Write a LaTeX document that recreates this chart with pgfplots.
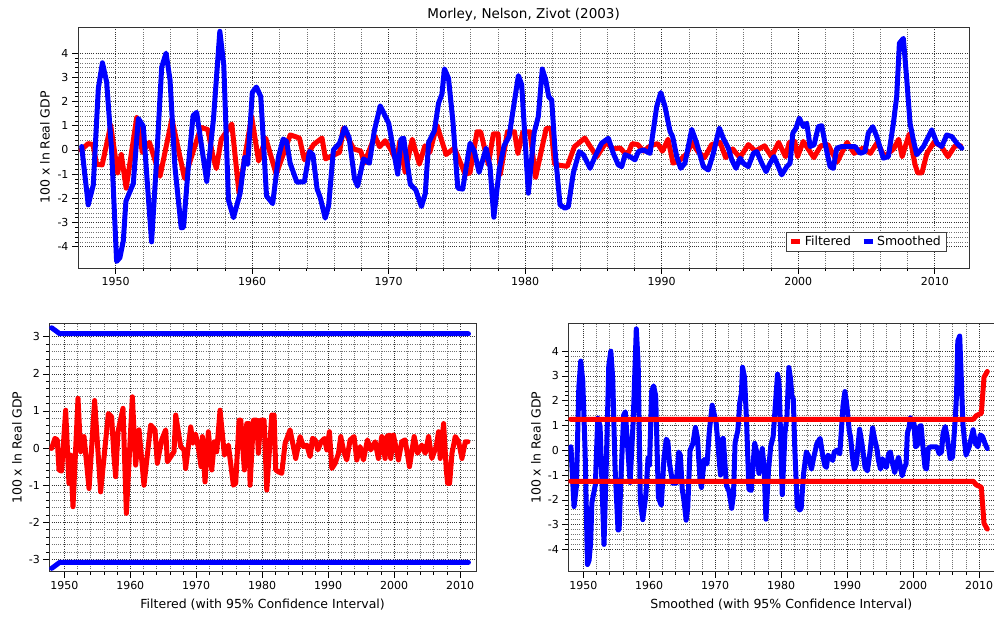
\documentclass[border=0pt]{standalone}
\usepackage{fontspec}
\setmainfont{DejaVu Sans}
\usepackage{pgfplots}
\pgfplotsset{compat=1.18}
\usepackage{pgfplotstable}

% smoothed cycle, top-panel dates
\pgfplotstableread{
t v
1947.51 0.14
1947.99 -2.27
1948.36 -1.45
1948.73 2.55
1949.03 3.60
1949.34 2.80
1949.70 0.00
1950.07 -4.61
1950.31 -4.45
1950.56 -3.75
1950.75 -2.12
1951.29 -1.39
1951.66 1.30
1952.02 0.98
1952.63 -3.80
1952.98 -0.60
1953.37 3.42
1953.69 4.00
1953.98 2.90
1954.34 -0.70
1954.80 -3.22
1954.97 -3.20
1955.32 -0.70
1955.67 1.42
1955.93 1.55
1956.67 -1.30
1957.16 1.25
1957.63 4.90
1957.92 3.50
1958.26 -2.07
1958.63 -2.80
1959.11 -1.80
1959.45 -0.30
1959.67 -0.60
1960.01 2.38
1960.31 2.60
1960.63 2.20
1961.05 -1.90
1961.50 -2.22
1961.92 -0.30
1962.27 0.45
1962.52 0.35
1962.78 -0.55
1963.27 -1.33
1963.82 -1.32
1964.20 -0.07
1964.45 -0.20
1964.75 -1.60
1965.00 -2.00
1965.35 -2.82
1965.60 -2.30
1965.95 0.00
1966.40 0.28
1966.78 0.92
1967.10 0.50
1967.50 -1.20
1967.72 -1.50
1968.15 -0.37
1968.58 -0.55
1968.95 0.80
1969.38 1.82
1970.00 1.10
1970.66 -1.00
1970.90 0.45
1971.10 0.48
1971.58 -1.42
1971.98 -1.65
1972.40 -2.34
1972.68 -1.80
1972.92 0.30
1973.35 0.80
1973.65 1.93
1973.90 2.30
1974.08 3.35
1974.38 2.96
1974.70 1.20
1975.06 -1.58
1975.42 -1.62
1975.96 0.28
1976.28 -0.07
1976.62 -0.93
1977.14 0.07
1977.42 -0.69
1977.70 -2.78
1978.10 -0.80
1978.45 0.17
1978.82 0.55
1979.13 1.72
1979.50 3.07
1979.74 2.70
1980.23 -1.79
1980.65 0.70
1980.96 1.38
1981.25 3.34
1981.50 2.90
1981.72 2.20
1981.94 2.07
1982.18 0.00
1982.55 -2.27
1982.92 -2.41
1983.16 -2.34
1983.52 -0.96
1983.96 -0.07
1984.26 -0.20
1984.75 -0.76
1985.11 -0.28
1985.60 0.28
1986.09 0.48
1986.45 -0.14
1986.82 -0.62
1987.07 -0.69
1987.31 -0.20
1987.68 -0.28
1988.04 -0.41
1988.29 -0.07
1988.65 0.00
1989.14 -0.14
1989.39 0.83
1989.63 1.79
1989.93 2.37
1990.24 1.79
1990.61 0.76
1990.80 0.55
1991.10 -0.28
1991.39 -0.76
1991.70 -0.55
1992.20 0.85
1992.56 0.28
1993.05 -0.69
1993.41 -0.83
1993.78 -0.14
1994.22 0.90
1994.51 0.48
1994.88 0.07
1995.13 -0.41
1995.44 -0.76
1995.74 -0.34
1995.98 -0.55
1996.34 -0.69
1996.71 -0.14
1996.96 -0.07
1997.33 -0.55
1997.64 -0.90
1997.94 -0.55
1998.23 -0.28
1998.54 -0.69
1998.79 -1.03
1999.16 -0.69
1999.40 -0.55
1999.60 0.69
1999.84 0.90
2000.08 1.31
2000.38 0.96
2000.62 1.10
2000.87 0.14
2001.16 0.21
2001.47 0.96
2001.72 1.00
2001.96 0.28
2002.33 -0.69
2002.57 -0.76
2002.82 0.07
2003.19 0.14
2003.67 0.14
2004.16 0.14
2004.53 -0.14
2004.89 -0.07
2005.13 0.69
2005.46 0.96
2005.75 0.55
2006.23 -0.34
2006.60 -0.28
2006.97 1.10
2007.21 2.20
2007.41 4.41
2007.70 4.61
2007.95 2.90
2008.19 1.10
2008.43 0.41
2008.68 -0.20
2009.17 0.14
2009.78 0.83
2010.15 0.28
2010.51 0.14
2010.88 0.62
2011.25 0.55
2011.61 0.28
2011.98 0.07
}\smoothed

% filtered cycle, bottom-panel dates
\pgfplotstableread{
b v
1948.08 -0.01
1948.59 0.26
1948.94 0.22
1949.20 -0.59
1949.60 -0.62
1950.21 1.02
1950.71 -0.95
1950.97 -0.19
1951.32 -1.58
1952.08 1.34
1952.48 -0.10
1952.99 0.31
1953.75 -1.09
1954.60 1.28
1955.51 -1.18
1956.68 0.93
1957.18 0.84
1957.53 -0.23
1957.79 -0.77
1958.14 0.44
1958.90 1.07
1959.41 -1.76
1960.32 1.38
1960.82 -0.46
1961.33 0.49
1962.08 -1.00
1963.09 0.62
1963.75 0.49
1964.10 -0.41
1964.76 0.22
1965.37 0.49
1965.62 -0.37
1966.63 -0.10
1966.89 0.89
1967.64 0.04
1968.15 -0.05
1968.40 -0.55
1969.16 0.57
1969.50 0.13
1969.90 0.38
1970.33 0.00
1970.73 -0.50
1970.93 0.31
1971.33 -0.91
1971.84 0.44
1972.35 -0.59
1972.75 0.17
1973.10 -0.10
1973.61 1.02
1974.27 -0.19
1974.87 0.08
1975.63 -1.00
1975.98 -0.95
1976.49 0.75
1976.75 0.75
1977.30 -0.59
1977.66 0.66
1978.00 0.66
1978.16 -1.00
1978.67 0.75
1979.17 0.75
1979.42 -0.14
1979.78 0.75
1980.28 0.75
1980.69 -1.13
1981.45 0.89
1981.80 0.89
1982.05 -0.59
1982.46 -0.64
1982.96 -0.68
1983.47 0.13
1984.22 0.49
1985.08 -0.28
1985.74 0.31
1986.25 0.04
1986.75 0.08
1987.26 -0.23
1987.62 0.26
1988.02 0.22
1988.43 -0.05
1988.93 0.17
1989.44 0.26
1989.79 -0.05
1990.19 0.44
1990.55 -0.55
1991.06 -0.41
1991.56 -0.14
1991.90 0.31
1992.31 -0.05
1992.81 -0.32
1993.32 0.22
1993.92 0.31
1994.33 -0.32
1994.83 0.04
1995.34 -0.32
1995.95 0.22
1996.45 -0.05
1997.11 0.17
1997.61 -0.28
1998.12 0.31
1998.62 -0.28
1998.88 0.31
1999.28 0.35
1999.48 -0.28
1999.89 0.35
2000.65 -0.32
2001.15 0.17
2001.66 0.22
2002.32 -0.50
2003.03 0.31
2003.54 -0.14
2004.19 0.08
2004.70 -0.14
2005.21 0.31
2005.71 -0.28
2006.37 0.04
2006.73 0.44
2006.98 -0.28
2007.49 0.66
2007.90 -0.59
2008.10 -0.95
2008.40 -0.95
2008.76 -0.14
2009.26 0.31
2009.77 0.17
2010.27 -0.28
2010.78 0.17
2011.18 0.17
}\filtered

\pgfplotsset{
  mnz/.style={
    scale only axis,
    anchor=south west,
    grid=both,
    major grid style={black!80, line width=0.55pt, dash pattern=on 1pt off 1.2pt},
    minor grid style={black!55, line width=0.55pt, dash pattern=on 1pt off 1.2pt},
    axis line style={black!80, line width=0.8pt},
    tick align=outside,
    xtick pos=left, ytick pos=left,
    major tick length=6pt, minor tick length=3pt,
    every tick/.style={black, line width=0.6pt},
    xtick={1950,1960,...,2010},
    minor x tick num=4,
    minor y tick num=4,
    /pgf/number format/assume math mode=true,
    /pgf/number format/1000 sep={},
    tick label style={font=\fontsize{11}{13}\selectfont},
    label style={font=\fontsize{12.5}{15}\selectfont},
    ylabel={100 x ln Real GDP},
    every axis plot/.append style={line width=5pt, line join=round, line cap=round},
  },
}

\begin{document}
\begin{tikzpicture}
\path[use as bounding box] (0,0) rectangle (994pt,618pt);

% top panel
\begin{axis}[mnz,
  at={(78pt,350pt)}, width=891.3pt, height=241pt,
  xmin=1947.24, xmax=2012.53, ymin=-4.88, ymax=5.08,
  ytick={-4,...,4},
  title={Morley, Nelson, Zivot (2003)},
  title style={font=\fontsize{13.5}{16}\selectfont, at={(axis description cs:0.5,1)}, anchor=south, yshift=-4pt},
  ylabel style={at={(axis description cs:-0.037,0.5)}, anchor=center, rotate=0},
  legend columns=2,
  legend style={at={(0.974,0.068)}, anchor=south east, draw=black!75, fill=white,
    font=\fontsize{12.5}{15}\selectfont, inner xsep=3pt, inner ysep=2pt,
    /tikz/every even column/.append style={column sep=8pt}},
  legend image code/.code={\draw[#1, line width=5pt, line cap=butt] (0pt,0pt) -- (9pt,0pt);},
]
\addplot[red] table[x expr={1947.51+(\thisrow{b}-1948.13)*1.0212}, y=v] {\filtered};
\addlegendentry{Filtered}
\addplot[blue] table[x=t, y=v] {\smoothed};
\addlegendentry{Smoothed}
\end{axis}

% bottom left: filtered with band
\begin{axis}[mnz,
  at={(49.3pt,46.3pt)}, width=426.7pt, height=248pt,
  xmin=1947.73, xmax=2012.4, ymin=-3.33, ymax=3.35,
  ytick={-3,...,3},
  xlabel={Filtered (with 95\% Confidence Interval)},
  xlabel style={at={(axis description cs:0.5,-0.134)}, anchor=center},
  ylabel style={at={(axis description cs:-0.0757,0.5)}, anchor=center, rotate=0},
]
\addplot[blue] coordinates {(1948.09,3.24) (1949.3,3.08) (2011.26,3.08)};
\addplot[blue] coordinates {(1948.09,-3.24) (1949.3,-3.08) (2011.26,-3.08)};
\addplot[red] table[x=b, y=v] {\filtered};
\end{axis}

% bottom right: smoothed with band
\begin{axis}[mnz,
  at={(568.3pt,46.3pt)}, width=426pt, height=248pt,
  xmin=1947.73, xmax=2012.32, ymin=-4.9, ymax=5.11,
  ytick={-4,...,4},
  xlabel={Smoothed (with 95\% Confidence Interval)},
  xlabel style={at={(axis description cs:0.5,-0.134)}, anchor=center},
  ylabel style={at={(axis description cs:-0.0758,0.5)}, anchor=center, rotate=0},
]
\addplot[blue] table[x expr={1948.13+(\thisrow{t}-1947.51)/1.0212}, y=v] {\smoothed};
\addplot[red] coordinates {(1948.09,1.25) (2009.13,1.25) (2009.6,1.40) (2010.35,1.49) (2010.76,2.95) (2011.26,3.18)};
\addplot[red] coordinates {(1948.09,-1.25) (2009.13,-1.25) (2009.6,-1.40) (2010.35,-1.49) (2010.76,-2.95) (2011.26,-3.18)};
\end{axis}
\end{tikzpicture}
\end{document}
